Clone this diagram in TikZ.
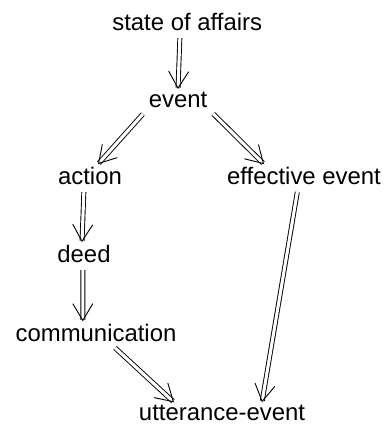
\documentclass[tikz,border=0pt]{standalone}
\usepackage{fontspec}
\setmainfont{Liberation Sans}
\usetikzlibrary{arrows.meta}

\begin{document}
\begin{tikzpicture}
\useasboundingbox (0, 0) rectangle (9.7, -10.6);

\begin{scope}[every node/.style={font=\fontsize{17}{20}\selectfont, inner sep=2pt}]
    \node (affairs) at (4.68, -0.55) {state of affairs};
    \node (event) at (4.45, -2.5) {event};

    \node (action) at (2.25, -4.4) {action};
    \node (effective) at (7.6, -4.4) {effective event};

    \node (deed) at (2.1, -6.35) {deed};
    \node (comm) at (2.4, -8.33) {communication};

    \node (utterance) at (5.55, -10.33) {utterance-event};
\end{scope}

\begin{scope}[>={Straight Barb[length=4.2mm, width=5mm, line width'=0.65pt]},
              every edge/.style={draw, double, double distance=2.2pt, line width=0.65pt, shorten <=3pt}]
    \path [->] ([xshift=-0.18cm]affairs.south) edge (event.north);
    \path [->] (event.south west) edge ([xshift=0.2cm]action.north);
    \path [->] (event.south east) edge ([xshift=-1cm]effective.north);
    \path [->] ([xshift=-0.15cm]action.south) edge ([xshift=-0.05cm]deed.north);
    \path [->] ([xshift=-0.03cm]deed.south) edge ([xshift=-0.33cm]comm.north);
    \path [->] ([xshift=0.4cm]comm.south) edge ([xshift=-1.2cm]utterance.north);
    \path [->] ([xshift=-0.15cm]effective.south) edge ([xshift=1cm]utterance.north);
\end{scope}
\end{tikzpicture}
\end{document}
